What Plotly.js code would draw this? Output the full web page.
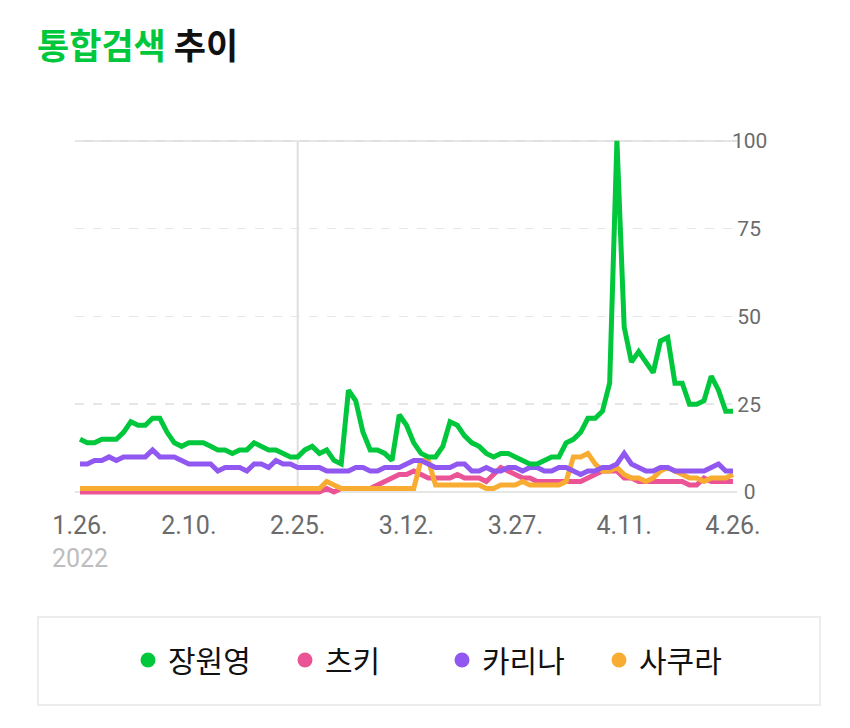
<!DOCTYPE html>
<html>
<head>
<meta charset="utf-8">
<script src="https://cdn.plot.ly/plotly-3.0.1.min.js"></script>
<style>html,body{margin:0;padding:0;background:#fff;}#chart{width:850px;height:728px;}</style>
</head>
<body>
<div id="chart"></div>
<script>
// Daily dates 2022-01-26 .. 2022-04-26 (91 days)
var startDate = new Date(Date.UTC(2022, 0, 26));
var dates = [];
for (var i = 0; i < 91; i++) {
  var d = new Date(startDate.getTime() + i * 86400000);
  dates.push(d.toISOString().slice(0, 10));
}

var seriesNames = ["장원영", "츠키", "카리나", "사쿠라"];
var seriesColors = ["#00c73c", "#ea5496", "#9058f0", "#f8ad32"];

var jangWonyoung = [15,14,14,15,15,15,17,20,19,19,21,21,17,14,13,14,14,14,13,12,
                    12,11,12,12,14,13,12,12,11,10,10,12,13,11,12,9,8,29,26,17,
                    12,12,11,9,22,19,14,11,10,10,13,20,19,16,14,13,11,10,11,11,
                    10,9,8,8,9,10,10,14,15,17,21,21,23,31,100,47,37,40,37,34,
                    43,44,31,31,25,25,26,33,29,23,23];
var tsuki =        [0,0,0,0,0,0,0,0,0,0,0,0,0,0,0,0,0,0,0,0,
                    0,0,0,0,0,0,0,0,0,0,0,0,0,0,1,0,1,1,1,1,
                    1,2,3,4,5,5,6,5,4,4,4,4,5,4,4,4,3,5,7,6,
                    5,4,4,3,3,3,3,3,3,3,4,5,6,6,6,4,4,3,3,3,
                    3,3,3,3,2,2,4,3,3,3,3];
var karina =       [8,8,9,9,10,9,10,10,10,10,12,10,10,10,9,8,8,8,8,6,
                    7,7,7,6,8,8,7,9,8,8,7,7,7,7,6,6,6,6,7,7,
                    6,6,7,7,7,8,9,9,8,7,7,7,8,8,6,6,7,6,6,7,
                    7,6,7,7,6,6,7,7,6,5,6,6,7,7,8,11,8,7,6,6,
                    7,7,6,6,6,6,6,7,8,6,6];
var sakura =       [1,1,1,1,1,1,1,1,1,1,1,1,1,1,1,1,1,1,1,1,
                    1,1,1,1,1,1,1,1,1,1,1,1,1,1,3,2,1,1,1,1,
                    1,1,1,1,1,1,1,9,9,2,2,2,2,2,2,2,1,1,2,2,
                    2,3,2,2,2,2,2,3,10,10,11,8,6,6,7,5,4,4,3,4,
                    6,7,6,5,4,4,3,4,4,4,5];
var seriesValues = [jangWonyoung, tsuki, karina, sakura];

var tickDates = ["2022-01-26","2022-02-10","2022-02-25","2022-03-12","2022-03-27","2022-04-11","2022-04-26"];
var tickLabels = ["1.26.<br><span style='color:#bdbdbd'>2022</span>","2.10.","2.25.","3.12.","3.27.","4.11.","4.26."];
var yTicks = [0, 25, 50, 75, 100];
// figure/quarter spaces keep the labels centred under one another
var yTickLabels = ["\u20070", "\u200525", "\u200550", "\u200575", "100"];

var traces = [];
// draw order: 츠키, 사쿠라, 카리나, 장원영 on top
var drawOrder = [1, 3, 2, 0];
drawOrder.forEach(function(k){
  traces.push({
    type: "scatter", mode: "lines", x: dates, y: seriesValues[k],
    line: {color: seriesColors[k], width: 5},
    showlegend: false, hoverinfo: "skip"
  });
});
// legend entries (dots)
for (var k = 0; k < 4; k++) {
  traces.push({
    type: "scatter", mode: "markers", x: [null], y: [null],
    name: seriesNames[k],
    marker: {color: seriesColors[k], size: 15},
    showlegend: true
  });
}

var layout = {
  width: 850, height: 728,
  paper_bgcolor: "#ffffff", plot_bgcolor: "#ffffff",
  margin: {l: 75, r: 113, t: 130, b: 233},
  font: {family: "Roboto, 'Noto Sans CJK KR', sans-serif"},
  title: {
    text: "<b><span style='color:#00c73c'>통합검색</span> 추이</b>",
    font: {family: "'Noto Sans CJK KR', sans-serif", size: 35, color: "#111111"},
    xref: "container", x: 37/850, xanchor: "left",
    yref: "container", y: 1 - 47/728, yanchor: "middle"
  },
  xaxis: {
    type: "date",
    range: ["2022-01-25 07:26", "2022-04-26 13:12"],
    tickmode: "array", tickvals: tickDates, ticktext: tickLabels,
    tickfont: {family: "Roboto, sans-serif", size: 25, color: "#6b6b6b"},
    showgrid: false, zeroline: false, showline: false, ticks: "",
    ticklabelstandoff: 13,
    fixedrange: true
  },
  yaxis: {
    range: [-0.85, 103.1],
    side: "right",
    tickmode: "array", tickvals: yTicks, ticktext: yTickLabels,
    tickfont: {family: "Roboto, sans-serif", size: 21, color: "#6b6b6b"},
    showgrid: true, gridcolor: "#e6e6e6", gridwidth: 1.5, griddash: "dash",
    zeroline: true, zerolinecolor: "#e6e6e6", zerolinewidth: 1.5,
    showline: false, ticks: "", ticklabelstandoff: -6,
    fixedrange: true
  },
  shapes: [
    {type: "line", xref: "x", yref: "y", x0: tickDates[2], x1: tickDates[2], y0: 0, y1: 100,
     line: {color: "#dedede", width: 2}, layer: "below"},
    {type: "line", xref: "paper", yref: "y", x0: 0, x1: 1, y0: 100, y1: 100,
     line: {color: "#e0e0e0", width: 2}, layer: "below"},
    {type: "rect", xref: "paper", yref: "paper",
     x0: (38-75)/662, x1: (820-75)/662, y0: (495-705)/365, y1: (495-617)/365,
     line: {color: "#ececec", width: 2}, fillcolor: "rgba(0,0,0,0)"}
  ],
  legend: {
    orientation: "h",
    xref: "container", yref: "container",
    x: 128/850, xanchor: "left", y: (728-660)/728, yanchor: "middle",
    font: {family: "'Noto Sans CJK KR', sans-serif", size: 30, color: "#111111"},
    itemwidth: 30, entrywidth: 112, entrywidthmode: "pixels",
    bgcolor: "rgba(0,0,0,0)", traceorder: "normal"
  },
  showlegend: true
};

Plotly.newPlot("chart", traces, layout, {displayModeBar: false, staticPlot: true});
</script>
</body>
</html>
